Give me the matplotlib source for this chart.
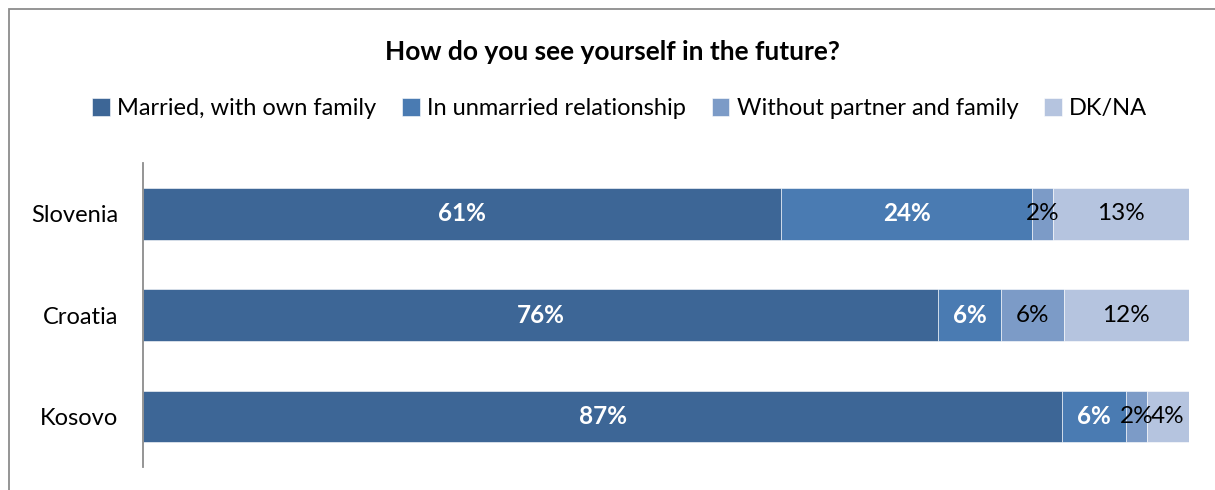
import matplotlib
matplotlib.use("Agg")
import matplotlib.pyplot as plt
from matplotlib.patches import Rectangle
import numpy as np

plt.rcParams['font.family'] = ['Lato', 'DejaVu Sans']

countries = ["Slovenia", "Croatia", "Kosovo"]
series_names = ["Married, with own family", "In unmarried relationship",
                "Without partner and family", "DK/NA"]
married = [61, 76, 87]
unmarried = [24, 6, 6]
no_partner = [2, 6, 2]
dk_na = [13, 12, 4]

colors = ["#3D6696", "#4A7BB2", "#7C9BC7", "#B5C4DF"]
label_colors = ["white", "white", "black", "black"]
label_weights = ["bold", "bold", "normal", "normal"]

values = np.array([married, unmarried, no_partner, dk_na], dtype=float)
# 100% stacked: each row scaled to its own total
shares = values / values.sum(axis=0) * 100

fig = plt.figure(figsize=(12.15, 4.9), dpi=100)
ax = fig.add_axes([0.1177, 0.047, 0.861, 0.62])

y = np.arange(len(countries))
left = np.zeros(len(countries))
handles = []
for k, name in enumerate(series_names):
    bars = ax.barh(y, shares[k], left=left, height=0.51, color=colors[k],
                   edgecolor="white", linewidth=0.4, label=name)
    handles.append(bars)
    for i in range(len(countries)):
        ax.text(left[i] + shares[k][i] / 2, y[i], f"{int(values[k][i])}%",
                ha="center", va="center", fontsize=17.5,
                color=label_colors[k], fontweight=label_weights[k])
    left += shares[k]

ax.set_xlim(0, 100)
ax.set_ylim(2.5, -0.5)
ax.set_yticks(y)
ax.set_yticklabels(countries, fontsize=17)
ax.tick_params(axis="y", length=0, pad=18)
ax.set_xticks([])
for side in ["top", "right", "bottom"]:
    ax.spines[side].set_visible(False)
ax.spines["left"].set_color("#8C8C8C")
ax.spines["left"].set_linewidth(1.3)

fig.text(0.504, 0.894, "How do you see yourself in the future?",
         ha="center", va="center", fontsize=19, fontweight="bold")

fig.legend(handles=handles, labels=series_names, loc="center",
           bbox_to_anchor=(0.510, 0.778), ncol=4, frameon=False,
           fontsize=17, handlelength=0.75, handleheight=0.75,
           handletextpad=0.3, columnspacing=1.1)

# outer chart border (only top and left edges fall inside the image)
fig.patches.append(Rectangle((9 / 1215, -0.1), 1.2, 1 - 9 / 490 + 0.1,
                             transform=fig.transFigure, fill=False,
                             edgecolor="#8C8C8C", linewidth=1.3))

fig.savefig("out.png", dpi=100)
